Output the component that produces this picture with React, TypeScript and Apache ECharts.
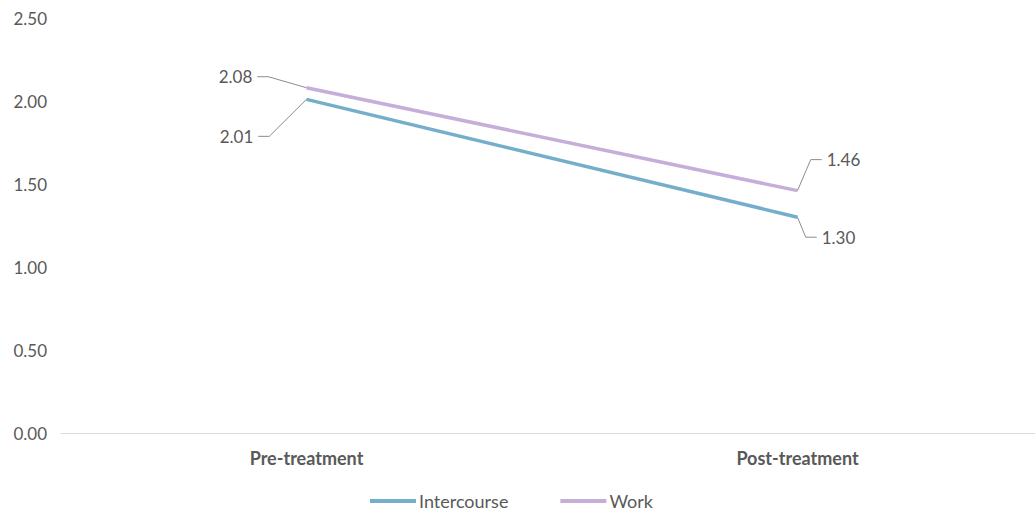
import React, { useEffect, useRef } from "react";
import * as echarts from "echarts";

const categories = ["Pre-treatment", "Post-treatment"];
const intercourse = [2.01, 1.3];
const work = [2.08, 1.46];
const yTicks = { min: 0, max: 2.5, interval: 0.5 };

// label offsets relative to each point: [dx, dy]
const intercourseOffsets = [
  [-70, 37],
  [41, 20],
];
const workOffsets = [
  [-71, -11],
  [46, -31],
];

const textColor = "#595959";
const font = "Lato, 'Open Sans', sans-serif";

export default function App() {
  const ref = useRef<HTMLDivElement>(null);

  useEffect(() => {
    if (!ref.current) return;
    const chart = echarts.init(ref.current, undefined, { renderer: "svg" });

    const makeSeries = (
      name: string,
      data: number[],
      color: string,
      offsets: number[][],
      z: number
    ) => ({
      name,
      type: "line",
      data,
      z,
      symbol: "circle",
      showSymbol: true,
      symbolSize: 1,
      lineStyle: { color, width: 3.5 },
      itemStyle: { color },
      label: {
        show: true,
        formatter: (p: any) => Number(p.value).toFixed(2),
        color: textColor,
        fontFamily: font,
        fontSize: 17,
        position: "inside",
        padding: [0, 5],
        backgroundColor: "rgba(255,255,255,0)",
      },
      labelLine: {
        show: true,
        smooth: false,
        length2: 11,
        lineStyle: { color: "#8c8c8c", width: 1 },
      },
      labelLayout: (params: any) => {
        const o = offsets[params.dataIndex];
        return { dx: o[0], dy: o[1] };
      },
    });

    chart.setOption({
      animation: false,
      backgroundColor: "#ffffff",
      textStyle: { fontFamily: font },
      grid: {
        left: 61,
        width: 982,
        top: 18,
        bottom: 80,
        outerBoundsMode: "none",
      },
      xAxis: {
        type: "category",
        data: categories,
        boundaryGap: true,
        axisLine: { lineStyle: { color: "#d9d9d9", width: 1 } },
        axisTick: { show: false },
        axisLabel: {
          color: textColor,
          fontFamily: font,
          fontSize: 18,
          fontWeight: "bold",
          margin: 16,
        },
      },
      yAxis: {
        type: "value",
        min: yTicks.min,
        max: yTicks.max,
        interval: yTicks.interval,
        axisLine: { show: false },
        axisTick: { show: false },
        splitLine: { show: false },
        axisLabel: {
          color: textColor,
          fontFamily: font,
          fontSize: 17,
          margin: 14,
          formatter: (v: number) => v.toFixed(2),
        },
      },
      legend: {
        top: 487,
        left: 365,
        itemWidth: 46,
        itemHeight: 4,
        itemGap: 52,
        icon: "rect",
        textStyle: { color: textColor, fontFamily: font, fontSize: 18, padding: [0, 0, 0, -2] },
        data: ["Intercourse", "Work"],
      },
      series: [
        makeSeries("Intercourse", intercourse, "#75aecb", intercourseOffsets, 2),
        makeSeries("Work", work, "#c5aed9", workOffsets, 3),
      ],
    });

    return () => chart.dispose();
  }, []);

  return (
    <div
      ref={ref}
      style={{ position: "absolute", left: 0, top: 0, width: 1035, height: 513 }}
    />
  );
}
